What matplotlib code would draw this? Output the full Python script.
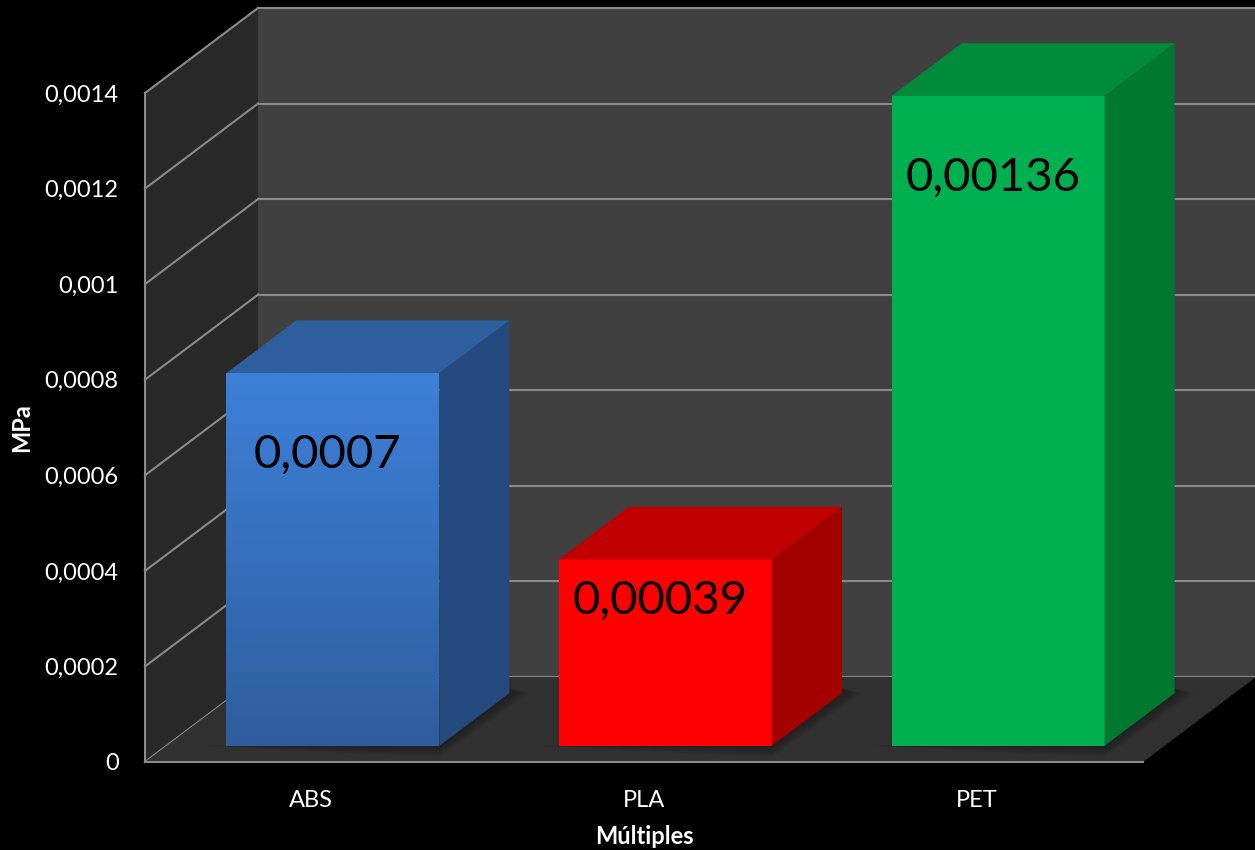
import numpy as np
import matplotlib
matplotlib.use("Agg")
from matplotlib import pyplot as plt
from matplotlib.patches import Polygon
from matplotlib.ticker import FuncFormatter

plt.rcParams['font.family'] = ['Lato', 'DejaVu Sans']

categories = ['ABS', 'PLA', 'PET']
values = [0.00078, 0.00039, 0.00136]
value_labels = ['0,0007', '0,00039', '0,00136']
yticks = [0, 0.0002, 0.0004, 0.0006, 0.0008, 0.001, 0.0012, 0.0014]

front_top = ['#3d80d9', '#ff0000', '#00b050']
front_bot = ['#2e5d9d', '#ff0000', '#00b050']
side_col = ['#244a7d', '#a30000', '#007830']
top_col = ['#2d5f9f', '#c00000', '#008a3b']

ymax = 0.0014
dx, dy = 0.3397, 0.0001779     # depth of the 3d box in data units
f0, f1 = 0.19, 0.81            # bar front/back depth fractions
w = 0.64

fig = plt.figure(figsize=(12.55, 8.5), dpi=100, facecolor='black')
ax = fig.add_axes([145 / 1255, 88 / 850, 998 / 1255, 669 / 850])
ax.set_facecolor('none')

grid_c = '#8a8a8a'
x0, x1 = -0.5, 2.5

# walls and floor
ax.add_patch(Polygon([(x0 + dx, dy), (x1 + dx + 0.05, dy), (x1 + dx + 0.05, ymax + dy), (x0 + dx, ymax + dy)],
                     closed=True, fc='#404040', ec='none', clip_on=False, zorder=0))
ax.add_patch(Polygon([(x0, 0), (x0 + dx, dy), (x0 + dx, ymax + dy), (x0, ymax)],
                     closed=True, fc='#282828', ec='none', clip_on=False, zorder=0))
for t in yticks:
    ax.plot([x0, x0 + dx], [t, t + dy], color=grid_c, lw=1.5, clip_on=False, zorder=1)
    ax.plot([x0 + dx, x1 + dx + 0.05], [t + dy, t + dy], color=grid_c, lw=1.5, clip_on=False, zorder=1)
ax.add_patch(Polygon([(x0, 0), (x1, 0), (x1 + dx, dy), (x0 + dx, dy)],
                     closed=True, fc='#303030', ec='none', clip_on=False, zorder=2))

# bars
dd = f1 - f0
for i, v in enumerate(values):
    xl = i - w / 2 + f0 * dx
    xr = i + w / 2 + f0 * dx
    yb = f0 * dy
    yt = v + f0 * dy
    # soft shadow on the floor
    for k in range(6):
        s = 0.01 * (k + 1)
        ax.add_patch(Polygon([(xl - s, yb), (xr, yb - 0.000004 * (k + 1)), (xr + dd * dx + s, yb + dd * dy),
                              (xr + dd * dx, yb + dd * dy + 0.00001), (xl, yb)],
                             closed=True, fc='black', ec='none', alpha=0.05, clip_on=False, zorder=3))
    grad = np.linspace(0, 1, 256).reshape(-1, 1)
    c_top = np.array(matplotlib.colors.to_rgb(front_top[i]))
    c_bot = np.array(matplotlib.colors.to_rgb(front_bot[i]))
    img = c_bot[None, None, :] * grad[:, :, None] + c_top[None, None, :] * (1 - grad[:, :, None])
    ax.imshow(img, extent=[xl, xr, yb, yt], origin='upper', aspect='auto', zorder=4, clip_on=False)
    ax.add_patch(Polygon([(xr, yb), (xr + dd * dx, yb + dd * dy), (xr + dd * dx, yt + dd * dy), (xr, yt)],
                         closed=True, fc=side_col[i], ec='none', clip_on=False, zorder=4))
    ax.add_patch(Polygon([(xl, yt), (xr, yt), (xr + dd * dx, yt + dd * dy), (xl + dd * dx, yt + dd * dy)],
                         closed=True, fc=top_col[i], ec='none', clip_on=False, zorder=4))
    ly = yt - min(0.00017, v * 0.22)
    ax.text((xl + xr) / 2 - 0.015, ly, value_labels[i], ha='center', va='center',
            fontsize=34, color='black', zorder=5)

ax.set_xlim(x0, x1)
ax.set_ylim(0, ymax)

ax.set_yticks(yticks)
ax.yaxis.set_major_formatter(FuncFormatter(lambda t, p: ('%g' % round(t, 6)).replace('.', ',')))
ax.set_xticks(range(len(categories)))
ax.set_xticklabels(categories)
ax.tick_params(axis='both', length=0, colors='white', labelsize=17)
ax.tick_params(axis='y', pad=19)
ax.tick_params(axis='x', pad=20)

for s in ['top', 'right']:
    ax.spines[s].set_visible(False)
for s in ['left', 'bottom']:
    ax.spines[s].set_color(grid_c)
    ax.spines[s].set_linewidth(1.5)
    ax.spines[s].set_zorder(6)

ax.set_ylabel('MPa', color='white', fontsize=17, fontweight='bold', labelpad=8)
ax.set_xlabel('Múltiples', color='white', fontsize=17, fontweight='bold', labelpad=10)

fig.savefig('out.png', dpi=100, facecolor='black')
